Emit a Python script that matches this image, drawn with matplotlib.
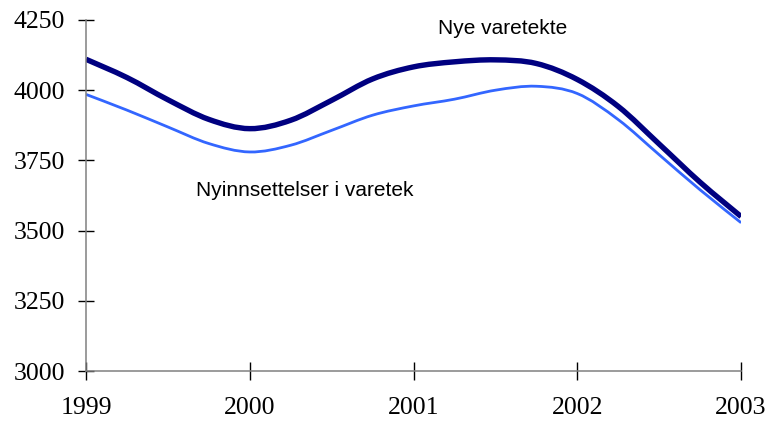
import numpy as np
import matplotlib
matplotlib.use("Agg")
import matplotlib.pyplot as plt
from matplotlib.path import Path
from matplotlib.patches import PathPatch

# quarterly values
quarters = [1999.0, 1999.25, 1999.5, 1999.75,
            2000.0, 2000.25, 2000.5, 2000.75,
            2001.0, 2001.25, 2001.5, 2001.75,
            2002.0, 2002.25, 2002.5, 2002.75,
            2003.0]
nye = [4110, 4045, 3966, 3896,
       3863, 3893, 3964, 4040,
       4083, 4101, 4108, 4095,
       4038, 3942, 3808, 3672,
       3550]
nyinnsatte = [3985, 3929, 3869, 3810,
              3780, 3804, 3857, 3911,
              3944, 3968, 4000, 4014,
              3988, 3895, 3770, 3645,
              3528]
label_nye = "Nye varetekte"
label_nyinn = "Nyinnsettelser i varetek"
year_ticks = [1999, 2000, 2001, 2002, 2003]
value_ticks = [3000, 3250, 3500, 3750, 4000, 4250]


def smooth_path(x, y):
    # Catmull-Rom through the points, drawn as cubic Bezier segments
    p = np.column_stack([x, y]).astype(float)
    ext = np.vstack([p[0], p, p[-1]])
    verts = [p[0]]
    codes = [Path.MOVETO]
    for i in range(1, len(ext) - 2):
        p0, p1, p2, p3 = ext[i - 1], ext[i], ext[i + 1], ext[i + 2]
        verts += [p1 + (p2 - p0) / 6, p2 - (p3 - p1) / 6, p2]
        codes += [Path.CURVE4] * 3
    return Path(verts, codes)


fig = plt.figure(figsize=(7.68, 4.25), dpi=100)
ax = fig.add_axes([0.112, 0.127, 0.853, 0.826])

ax.add_patch(PathPatch(smooth_path(quarters, nyinnsatte), fill=False,
                       edgecolor="#3366ff", lw=2.0, capstyle="butt"))
ax.add_patch(PathPatch(smooth_path(quarters, nye), fill=False,
                       edgecolor="#000080", lw=3.9, capstyle="butt"))

ax.set_xlim(1999, 2003)
ax.set_ylim(3000, 4250)
ax.set_xticks(year_ticks)
ax.set_yticks(value_ticks)

for s in ["top", "right"]:
    ax.spines[s].set_visible(False)
for s in ["left", "bottom"]:
    ax.spines[s].set_color("#808080")
    ax.spines[s].set_linewidth(1.1)

ax.tick_params(axis="y", direction="inout", length=12, width=1, pad=9,
               color="black")
ax.tick_params(axis="x", direction="inout", length=13, width=1, pad=12,
               color="black")
for lab in ax.get_xticklabels() + ax.get_yticklabels():
    lab.set_fontfamily("Liberation Serif")
    lab.set_fontsize(18.5)

ax.text(2001.15, 4200, label_nye, family="Liberation Sans", fontsize=15,
        va="baseline", ha="left")
ax.text(1999.67, 3623, label_nyinn, family="Liberation Sans", fontsize=15,
        va="baseline", ha="left")

fig.savefig("out.png", dpi=100)
